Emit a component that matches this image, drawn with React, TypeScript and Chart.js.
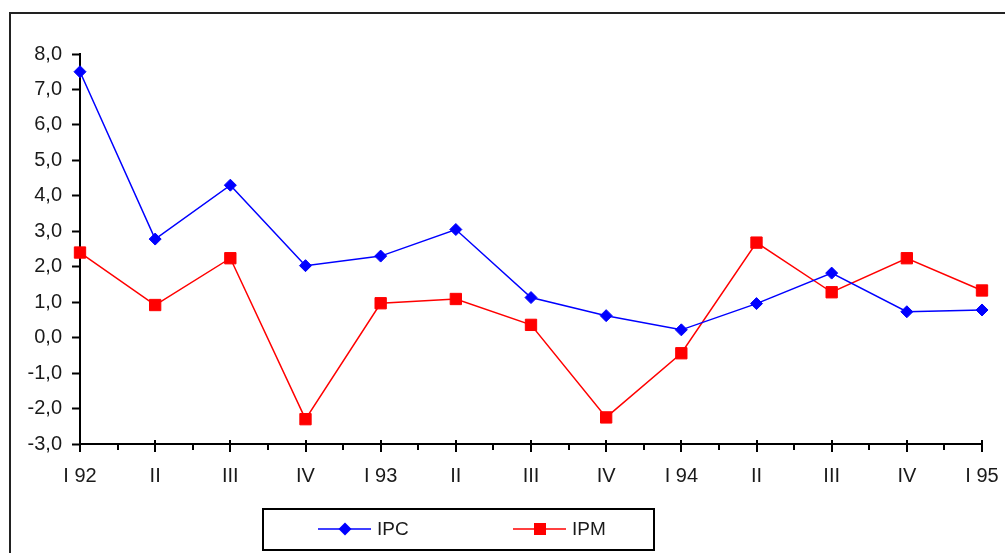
import { useEffect, useRef } from 'react';
import { Chart, registerables } from 'chart.js';

Chart.register(...registerables);

// Quarterly series, 1992 Q1 to 1995 Q1
const quarters = ['I 92', 'II', 'III', 'IV', 'I 93', 'II', 'III', 'IV', 'I 94', 'II', 'III', 'IV', 'I 95'];
const ipc = [7.5, 2.78, 4.3, 2.03, 2.3, 3.05, 1.13, 0.62, 0.22, 0.96, 1.82, 0.73, 0.78];
const ipm = [2.4, 0.92, 2.24, -2.3, 0.97, 1.09, 0.36, -2.25, -0.44, 2.68, 1.28, 2.24, 1.33];
const seriesNames = ['IPC', 'IPM'];
const yMin = -3;
const yMax = 8;
const yStep = 1;

const FONT = '"Liberation Sans", Arial, sans-serif';
const BLUE = '#0000ff';
const RED = '#ff0000';
const INK = '#1a1a1a';

const fmt = (v: number) => v.toFixed(1).replace('.', ',');

// Major ticks across the category axis plus short minor ticks between quarters
const quarterTicks = {
  id: 'quarterTicks',
  beforeDatasetsDraw(chart: any) {
    const xs = chart.scales.x;
    const ctx = chart.ctx;
    const y0 = chart.chartArea.bottom;
    ctx.save();
    ctx.strokeStyle = '#000';
    ctx.lineWidth = 2;
    ctx.beginPath();
    for (let i = 0; i < quarters.length; i++) {
      const px = Math.round(xs.getPixelForValue(i));
      ctx.moveTo(px, y0 - 4);
      ctx.lineTo(px, y0 + 8);
      if (i < quarters.length - 1) {
        const mx = Math.round(xs.getPixelForValue(i + 0.5));
        ctx.moveTo(mx, y0);
        ctx.lineTo(mx, y0 + 6);
      }
    }
    ctx.stroke();
    ctx.restore();
  },
};

// Boxed legend below the axis with line + marker samples
const boxedLegend = {
  id: 'boxedLegend',
  afterDraw(chart: any) {
    const ctx = chart.ctx;
    const box = { l: 263, t: 509, r: 654, b: 550 };
    ctx.save();
    ctx.strokeStyle = '#000';
    ctx.lineWidth = 2;
    ctx.strokeRect(box.l, box.t, box.r - box.l, box.b - box.t);
    const cy = 529;
    const entries = [
      { x: 318, color: BLUE, shape: 'diamond' },
      { x: 513, color: RED, shape: 'square' },
    ];
    entries.forEach((e, i) => {
      ctx.strokeStyle = e.color;
      ctx.fillStyle = e.color;
      ctx.lineWidth = 1.5;
      ctx.beginPath();
      ctx.moveTo(e.x, cy);
      ctx.lineTo(e.x + 53, cy);
      ctx.stroke();
      const mx = e.x + 27;
      ctx.beginPath();
      if (e.shape === 'diamond') {
        ctx.moveTo(mx, cy - 6.5);
        ctx.lineTo(mx + 6.5, cy);
        ctx.lineTo(mx, cy + 6.5);
        ctx.lineTo(mx - 6.5, cy);
        ctx.closePath();
      } else {
        ctx.rect(mx - 6, cy - 6, 12, 12);
      }
      ctx.fill();
      ctx.fillStyle = INK;
      ctx.font = `19px ${FONT}`;
      ctx.textBaseline = 'middle';
      ctx.textAlign = 'left';
      ctx.fillText(seriesNames[i], e.x + 59, cy + 1);
    });
    ctx.restore();
  },
};

export default function App() {
  const ref = useRef<HTMLCanvasElement | null>(null);

  useEffect(() => {
    if (!ref.current) return;
    const chart = new Chart(ref.current, {
      type: 'line',
      data: {
        labels: quarters,
        datasets: [
          {
            label: seriesNames[0],
            data: ipc,
            borderColor: BLUE,
            backgroundColor: BLUE,
            borderWidth: 1.5,
            pointStyle: 'rectRot',
            pointRadius: 6,
            pointBorderWidth: 1,
            tension: 0,
            clip: false as any,
          },
          {
            label: seriesNames[1],
            data: ipm,
            borderColor: RED,
            backgroundColor: RED,
            borderWidth: 1.5,
            pointStyle: 'rect',
            pointRadius: 8,
            pointBorderWidth: 1,
            tension: 0,
            clip: false as any,
          },
        ],
      },
      options: {
        animation: false,
        responsive: false,
        devicePixelRatio: 1,
        layout: { padding: { top: 54, left: 0, right: 23, bottom: 0 } },
        plugins: {
          legend: { display: false },
          tooltip: { enabled: false },
        },
        scales: {
          x: {
            offset: false,
            grid: { display: false },
            border: { display: true, color: '#000', width: 2 },
            ticks: {
              color: INK,
              font: { family: FONT, size: 20 },
              padding: 12,
              maxRotation: 0,
              autoSkip: false,
            },
            afterFit: (s: any) => {
              s.height = 109;
              s.paddingLeft = 0;
              s.paddingRight = 0;
            },
          },
          y: {
            min: yMin,
            max: yMax,
            grid: {
              display: true,
              drawOnChartArea: false,
              drawTicks: true,
              tickLength: 8,
              tickWidth: 2,
              tickColor: '#000',
            },
            border: { display: true, color: '#000', width: 2 },
            ticks: {
              stepSize: yStep,
              color: INK,
              font: { family: FONT, size: 20 },
              padding: 10,
              callback: (v: any) => fmt(Number(v)),
            },
            afterFit: (s: any) => {
              s.width = 80;
              s.paddingTop = 0;
              s.paddingBottom = 0;
            },
          },
        },
      },
      plugins: [quarterTicks, boxedLegend],
    });
    return () => chart.destroy();
  }, []);

  return (
    <div
      style={{
        position: 'fixed',
        left: 0,
        top: 0,
        width: 1005,
        height: 553,
        overflow: 'hidden',
        background: '#fff',
      }}
    >
      <div
        style={{
          position: 'absolute',
          left: 9,
          top: 12,
          width: 1100,
          height: 700,
          border: '2px solid #222',
        }}
      />
      <canvas
        ref={ref}
        width={1005}
        height={553}
        style={{ position: 'absolute', left: 0, top: 0, width: 1005, height: 553 }}
      />
    </div>
  );
}
